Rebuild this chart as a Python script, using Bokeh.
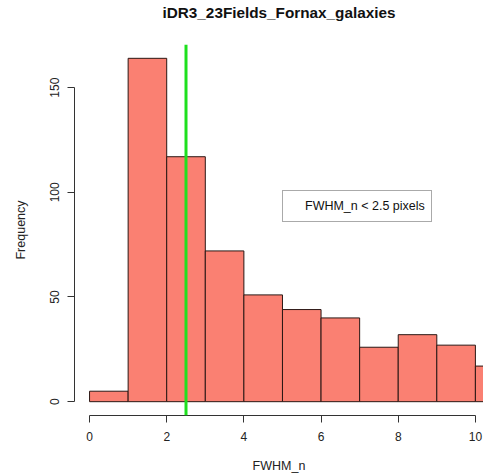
from bokeh.plotting import figure
from bokeh.models import (Range1d, FixedTicker, Span, Legend, LegendItem)
from bokeh.embed import file_html
from bokeh.resources import INLINE

# Histogram of FWHM_n (bins of width 1)
bin_left = [0, 1, 2, 3, 4, 5, 6, 7, 8, 9, 10]
bin_right = [1, 2, 3, 4, 5, 6, 7, 8, 9, 10, 11]
counts = [5, 164, 117, 72, 51, 44, 40, 26, 32, 27, 17]

cut_value = 2.5
x_ticks = [0, 2, 4, 6, 8, 10]
y_ticks = [0, 50, 100, 150]

FONT = "Liberation Sans"

p = figure(width=483, height=476, output_backend="svg", toolbar_location=None,
           x_range=Range1d(-0.39, 10.21), y_range=Range1d(-6.6, 170.6),
           min_border_left=74, min_border_right=0, min_border_top=44,
           min_border_bottom=61)

p.outline_line_color = None
p.grid.visible = False
p.background_fill_color = "white"
p.border_fill_color = "white"

p.quad(left=bin_left, right=bin_right, bottom=0, top=counts,
       fill_color="#FA8072", line_color="#2a1714", line_width=1)

cut = Span(location=cut_value, dimension="height", line_color="#1ee01e",
           line_width=3)
p.add_layout(cut)

# axes in the R base-graphics style
for ax in (p.xaxis[0], p.yaxis[0]):
    ax.axis_line_color = "#333333"
    ax.major_tick_line_color = "#333333"
    ax.major_tick_out = 7
    ax.major_tick_in = 0
    ax.minor_tick_line_color = None
    ax.major_label_text_font = FONT
    ax.major_label_text_font_size = "12px"
    ax.major_label_text_color = "#222222"
    ax.axis_label_text_font = FONT
    ax.axis_label_text_font_size = "12.5px"
    ax.axis_label_text_font_style = "normal"
    ax.axis_label_text_color = "#222222"

p.xaxis.ticker = FixedTicker(ticks=x_ticks)
p.yaxis.ticker = FixedTicker(ticks=y_ticks)
p.xaxis.bounds = (x_ticks[0], x_ticks[-1])
p.yaxis.bounds = (y_ticks[0], y_ticks[-1])
p.xaxis.axis_label = "FWHM_n"
p.yaxis.axis_label = "Frequency"
p.yaxis.major_label_orientation = "vertical"
p.xaxis.major_label_standoff = 9
p.xaxis.axis_label_standoff = 15
p.yaxis.major_label_standoff = 8
p.yaxis.axis_label_standoff = 20

# a blank second line lifts the title higher in the top margin
p.title.text = "iDR3_23Fields_Fornax_galaxies\n "
p.title.align = "center"
p.title.text_font = FONT
p.title.text_font_size = "15.3px"
p.title.text_font_style = "bold"
p.title.text_color = "#111111"
p.title.text_line_height = 1.4
p.title.offset = 5
p.title.standoff = 0

# legend box without a symbol
dummy = p.line(x=[0, 0], y=[0, 0], line_alpha=0)
legend = Legend(items=[LegendItem(label="FWHM_n < 2.5 pixels", renderers=[dummy])],
                location=(208, 193), padding=6, margin=0,
                glyph_width=11, glyph_height=18, label_height=18,
                label_standoff=5, spacing=0,
                label_text_font=FONT, label_text_font_size="12.5px",
                label_text_color="#111111",
                border_line_color="#555555", border_line_width=1,
                background_fill_color="white", background_fill_alpha=1)
p.add_layout(legend)

open("out.html", "w").write(file_html(p, INLINE))
